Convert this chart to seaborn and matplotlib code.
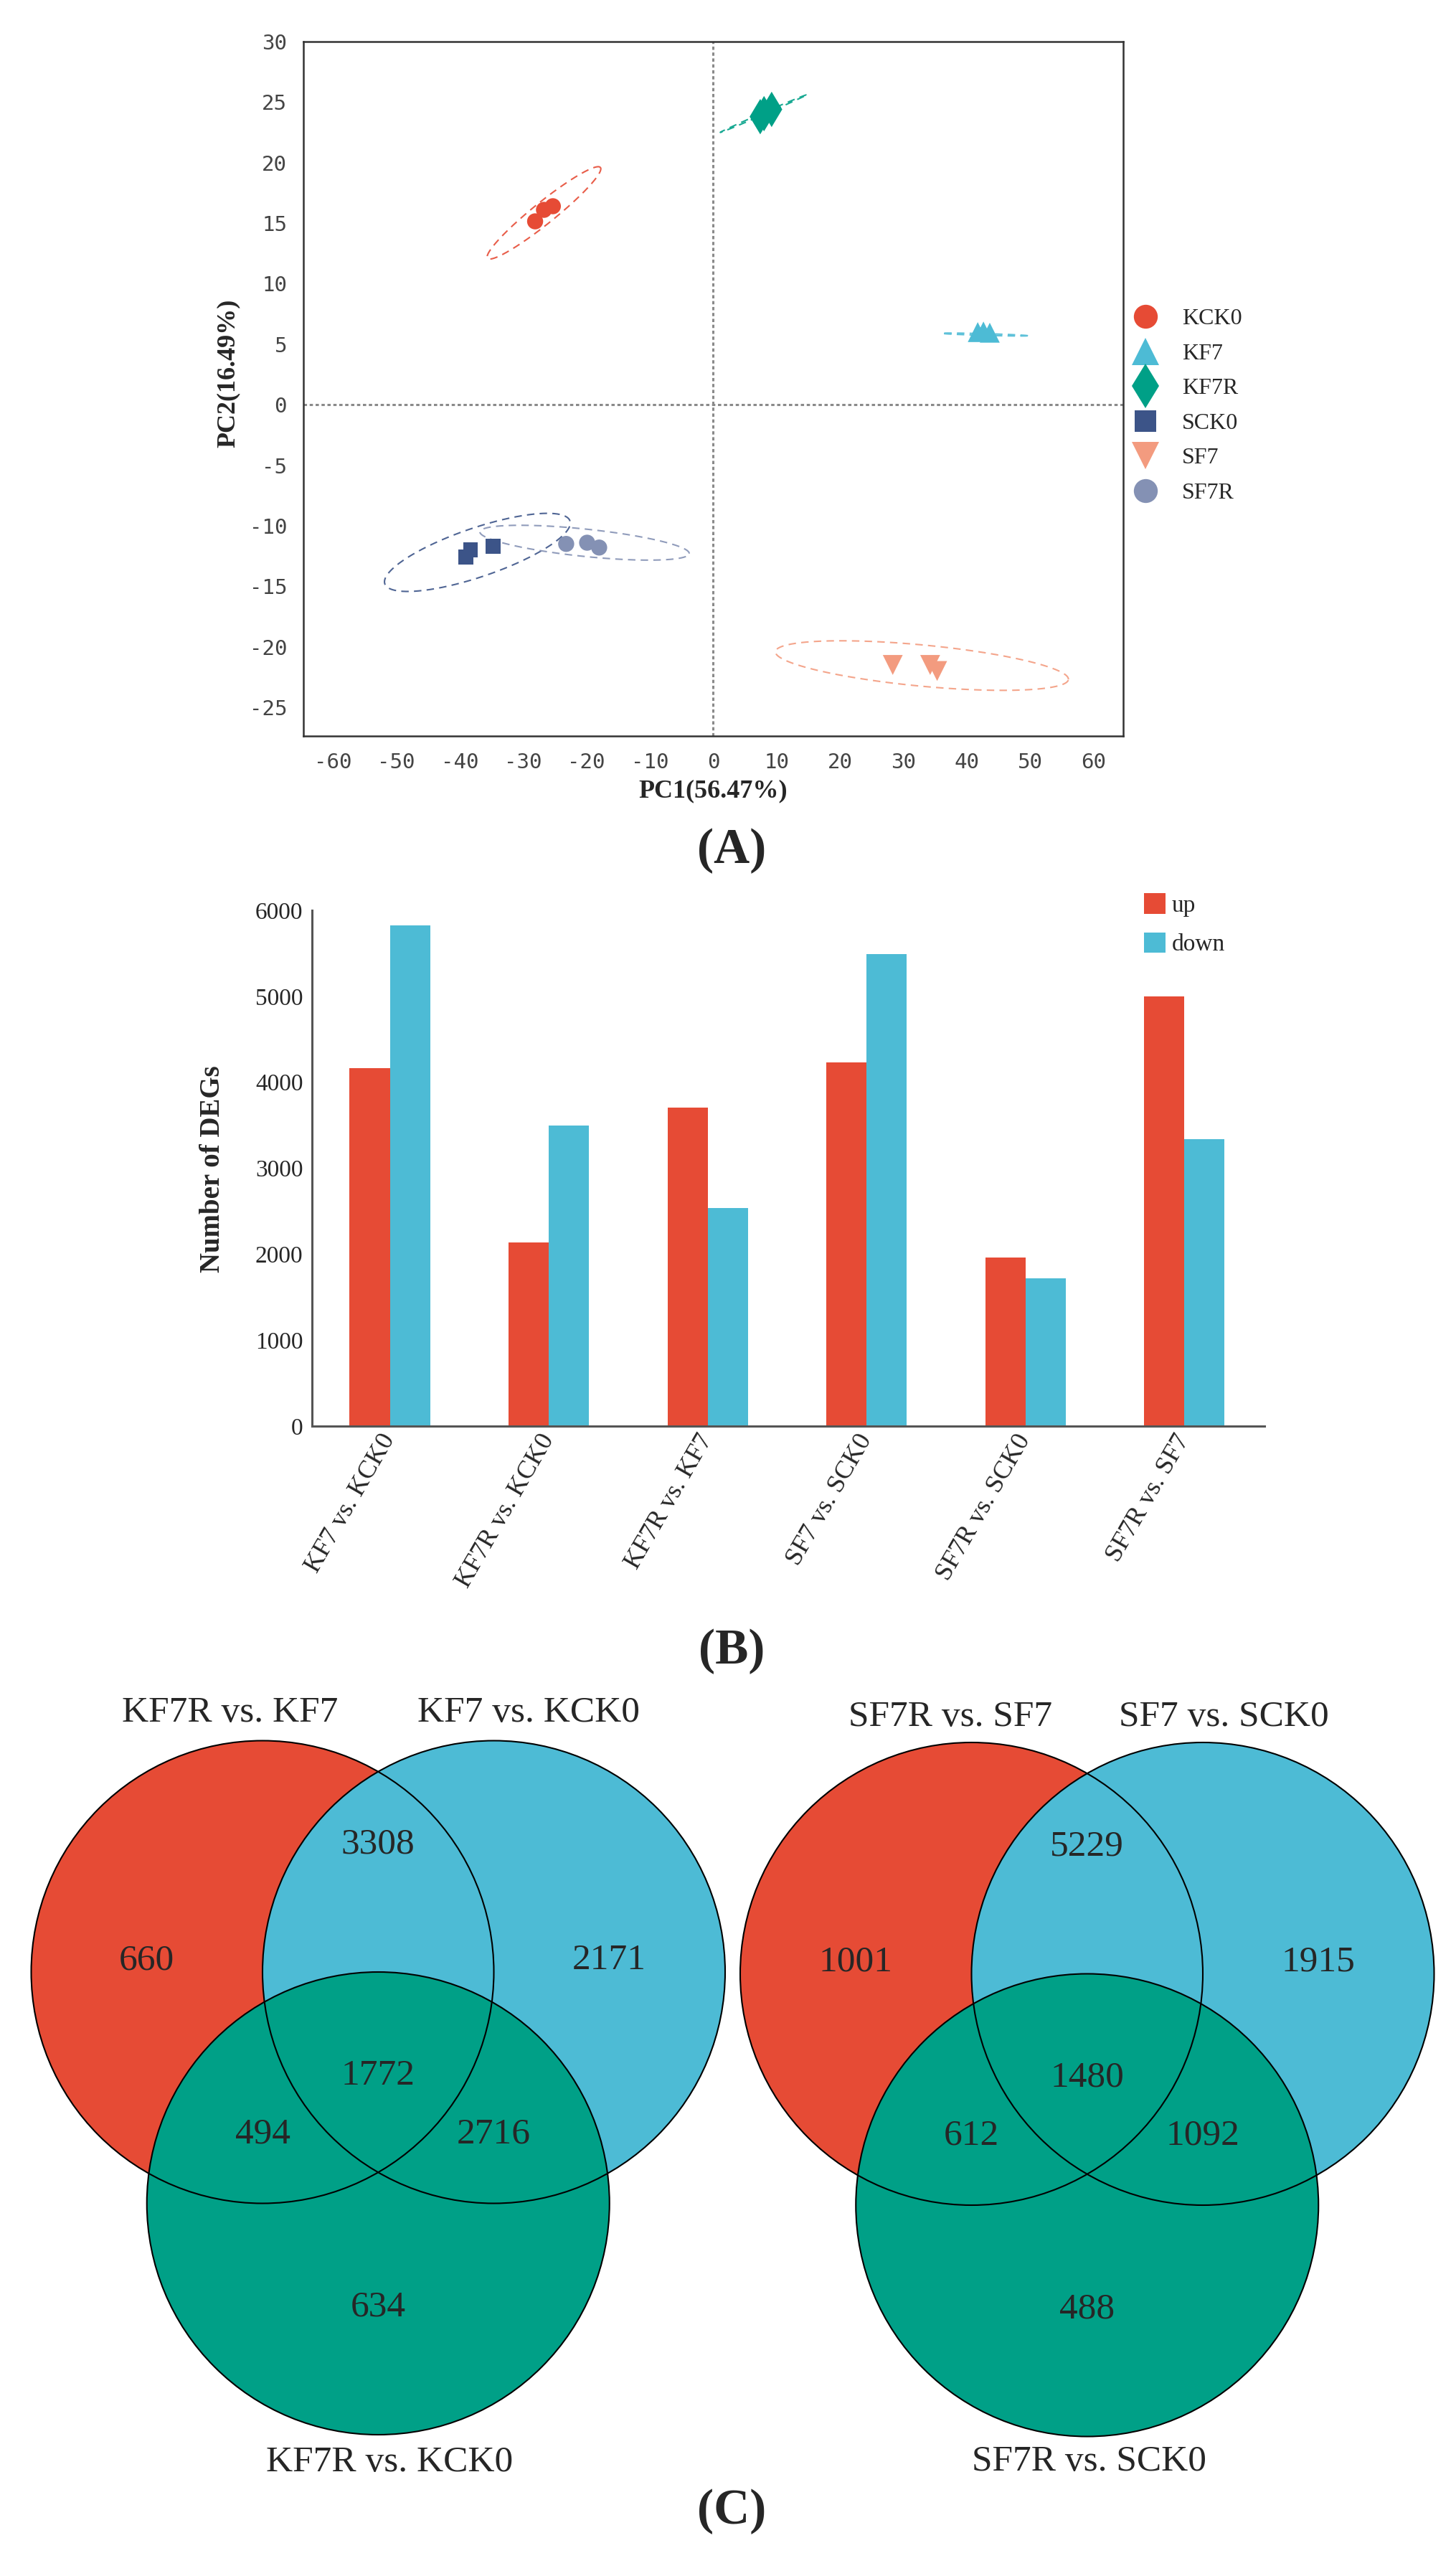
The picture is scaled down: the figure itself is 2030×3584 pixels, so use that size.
import numpy as np
import pandas as pd
import matplotlib
matplotlib.use("Agg")
import matplotlib.pyplot as plt
import seaborn as sns
from matplotlib.lines import Line2D
from matplotlib.patches import Circle, Patch

# ---------------- data: PCA ----------------
groups = ["KCK0", "KF7", "KF7R", "SCK0", "SF7", "SF7R"]
kck0_pc1 = [-28.1, -26.7, -25.3]
kck0_pc2 = [15.15, 16.1, 16.4]
kf7_pc1 = [41.7, 42.6, 43.6]
kf7_pc2 = [6.0, 6.05, 5.95]
kf7r_pc1 = [7.4, 8.0, 9.2]
kf7r_pc2 = [23.8, 24.05, 24.4]
sck0_pc1 = [-39.0, -38.3, -34.7]
sck0_pc2 = [-12.6, -12.0, -11.7]
sf7_pc1 = [28.3, 34.2, 35.3]
sf7_pc2 = [-21.5, -21.5, -22.0]
sf7r_pc1 = [-23.2, -19.9, -18.0]
sf7r_pc2 = [-11.5, -11.4, -11.8]

# confidence ellipses (centre, semi-major offset, minor/major ratio)
ell_cx = [-26.7, 42.8, 7.9, -37.2, 32.9, -20.3]
ell_cy = [15.85, 5.8, 24.05, -12.2, -21.55, -11.4]
ell_ax = [8.9, 6.8, 6.8, 14.6, 23.1, 16.5]
ell_ay = [3.75, -0.1, 1.55, 2.6, -1.15, -0.9]
ell_ratio = [0.15, 0.02, 0.02, 0.25, 0.14, 0.13]

pc1_label = "PC1(56.47%)"
pc2_label = "PC2(16.49%)"
pca_xticks = list(range(-60, 61, 10))
pca_yticks = list(range(-25, 31, 5))

# ---------------- data: DEG bars ----------------
comparisons = ["KF7 vs. KCK0", "KF7R vs. KCK0", "KF7R vs. KF7",
               "SF7 vs. SCK0", "SF7R vs. SCK0", "SF7R vs. SF7"]
up_counts = [4162, 2140, 3706, 4234, 1960, 5000]
down_counts = [5822, 3493, 2535, 5490, 1718, 3340]
directions = ["up", "down"]
bar_yticks = [0, 1000, 2000, 3000, 4000, 5000, 6000]

# ---------------- data: Venn ----------------
venn_k_sets = ["KF7R vs. KF7", "KF7 vs. KCK0", "KF7R vs. KCK0"]
venn_k_counts = [660, 3308, 2171, 1772, 494, 2716, 634]
venn_s_sets = ["SF7R vs. SF7", "SF7 vs. SCK0", "SF7R vs. SCK0"]
venn_s_counts = [1001, 5229, 1915, 1480, 612, 1092, 488]

# ---------------- style ----------------
colors = {"KCK0": "#E64B35", "KF7": "#4DBBD5", "KF7R": "#00A087",
          "SCK0": "#3C5488", "SF7": "#F39B7F", "SF7R": "#8491B4"}
markers = {"KCK0": "o", "KF7": "^", "KF7R": "d", "SCK0": "s", "SF7": "v", "SF7R": "o"}
sizes = {"KCK0": 260, "KF7": 400, "KF7R": 630, "SCK0": 220, "SF7": 400, "SF7R": 260}
leg_ms = {"KCK0": 24, "KF7": 27, "KF7R": 32, "SCK0": 21, "SF7": 27, "SF7R": 24}
bar_colors = {"up": "#E64B35", "down": "#4DBBD5"}

sns.set_theme(style="white")
plt.rcParams["font.family"] = ["Liberation Serif", "DejaVu Serif"]
plt.rcParams["axes.unicode_minus"] = False

W, H = 2030, 3584
fig = plt.figure(figsize=(W / 100, H / 100), dpi=100)
fig.patch.set_facecolor("white")


def px_axes(l, t, r, b):
    return fig.add_axes([l / W, 1 - b / H, (r - l) / W, (b - t) / H])


# ======================= Panel A: PCA =======================
axA = px_axes(423, 58, 1566, 1026)
pc1_all = [kck0_pc1, kf7_pc1, kf7r_pc1, sck0_pc1, sf7_pc1, sf7r_pc1]
pc2_all = [kck0_pc2, kf7_pc2, kf7r_pc2, sck0_pc2, sf7_pc2, sf7r_pc2]
rows = []
for g, xs, ys in zip(groups, pc1_all, pc2_all):
    for x, y in zip(xs, ys):
        rows.append((g, x, y))
df_pca = pd.DataFrame(rows, columns=["group", "PC1", "PC2"])

axA.axhline(0, color="#8a8a8a", lw=2.2, ls=(0, (1.5, 1.2)), zorder=1)
axA.axvline(0, color="#8a8a8a", lw=2.2, ls=(0, (1.5, 1.2)), zorder=1)
sns.scatterplot(data=df_pca, x="PC1", y="PC2", hue="group", style="group", size="group",
                hue_order=groups, style_order=groups, size_order=groups,
                palette=colors, markers=markers, sizes=sizes, linewidth=0,
                legend=False, ax=axA, zorder=3)
axA.set_xlim(-64.64, 64.64)
axA.set_ylim(-27.37, 30)

t = np.linspace(0, 2 * np.pi, 500)
T = axA.transData
for g, cx, cy, ax_, ay_, k in zip(groups, ell_cx, ell_cy, ell_ax, ell_ay, ell_ratio):
    c = T.transform((cx, cy))
    e = T.transform((cx + ax_, cy + ay_))
    a = e - c
    n = np.array([-a[1], a[0]]) * k
    pts = c[None, :] + np.outer(np.cos(t), a) + np.outer(np.sin(t), n)
    d = T.inverted().transform(pts)
    axA.plot(d[:, 0], d[:, 1], color=colors[g], lw=1.5, dashes=(5, 3.5), alpha=0.9, zorder=2)

axA.set_xticks(pca_xticks, labels=[str(v) for v in pca_xticks],
               fontfamily="DejaVu Sans Mono", fontsize=21, color="#444444")
axA.set_yticks(pca_yticks, labels=[str(v) for v in pca_yticks],
               fontfamily="DejaVu Sans Mono", fontsize=21, color="#444444")
axA.tick_params(direction="out", length=8, width=1.5, color="#333333", pad=8.5)
for s in axA.spines.values():
    s.set_color("#333333")
    s.set_linewidth(1.8)
axA.set_xlabel("")
axA.set_ylabel("")
fig.text(994 / W, 1 - 1103 / H, pc1_label, ha="center", va="center",
         fontsize=26, weight="bold")
fig.text(318 / W, 1 - 520 / H, pc2_label, ha="center", va="center",
         fontsize=26, weight="bold", rotation=90)

handles = [Line2D([], [], ls="", marker=markers[g], color=colors[g], markeredgewidth=0,
                  markersize=leg_ms[g]) for g in groups]
fig.legend(handles, groups, loc="upper left", bbox_to_anchor=(1581 / W, 1 - 430 / H),
           frameon=False, fontsize=23, handlelength=1.0, handletextpad=1.1,
           labelspacing=0.6, borderpad=0, borderaxespad=0)

fig.text(1020 / W, 1 - 1186 / H, "(A)", ha="center", va="center", fontsize=50, weight="bold")

# ======================= Panel B: DEG bars =======================
axB = px_axes(435, 1269, 1763, 1988)
df_bar = pd.DataFrame({
    "comparison": comparisons * 2,
    "direction": ["up"] * len(comparisons) + ["down"] * len(comparisons),
    "count": up_counts + down_counts,
})
sns.barplot(data=df_bar, x="comparison", y="count", hue="direction",
            order=comparisons, hue_order=directions, palette=bar_colors,
            width=0.506, saturation=1, linewidth=0, errorbar=None,
            legend=False, ax=axB)
axB.set_xlim(-0.49, 5.505)
axB.set_ylim(0, 6000)
axB.set_yticks(bar_yticks, labels=[str(v) for v in bar_yticks], fontsize=24)
axB.set_xlabel("")
axB.set_ylabel("")
for side in ["top", "right"]:
    axB.spines[side].set_visible(False)
for side in ["left", "bottom"]:
    axB.spines[side].set_color("#555555")
    axB.spines[side].set_linewidth(2.2)
axB.tick_params(direction="in", length=9.5, width=1.6, color="#222222", pad=9)
axB.tick_params(axis="x", labelsize=26, pad=10)
plt.setp(axB.get_xticklabels(), rotation=60, ha="right", va="center", rotation_mode="anchor")
axB.text(-0.104, 0.499, "Number of DEGs", transform=axB.transAxes, rotation=90,
         ha="center", va="center", fontsize=28, weight="bold")
bh = [Patch(facecolor=bar_colors[d], edgecolor="none") for d in directions]
fig.legend(bh, directions, loc="upper left", bbox_to_anchor=(1595 / W, 1 - 1245 / H),
           frameon=False, fontsize=24, handlelength=0.9, handleheight=0.95,
           handletextpad=0.25, labelspacing=0.65, borderpad=0, borderaxespad=0)

fig.text(1020 / W, 1 - 2302 / H, "(B)", ha="center", va="center", fontsize=50, weight="bold")

# ======================= Panel C: Venn diagrams =======================
R_PX = 322.5
circle_centres = [(0.0, 0.0), (1.0, 0.0), (0.5, -1.0)]
circle_colors = ["#E64B35", "#4DBBD5", "#00A087"]
region_pos = [(-0.5, 0.05), (0.5, 0.55), (1.5, 0.05), (0.5, -0.45),
              (0.0, -0.70), (1.0, -0.70), (0.5, -1.45)]


def venn(l_px, r_px, cx_px, cy_px, set_names, counts, set_pos):
    top_px, bot_px = 2330, 3560
    ax = px_axes(l_px, top_px, r_px, bot_px)
    ax.set_xlim((l_px - cx_px) / R_PX, (r_px - cx_px) / R_PX)
    ax.set_ylim((cy_px - bot_px) / R_PX, (cy_px - top_px) / R_PX)
    ax.axis("off")
    for i, ((x, y), col) in enumerate(zip(circle_centres, circle_colors)):
        ax.add_patch(Circle((x, y), 1.0, facecolor=col, edgecolor="none", zorder=1 + i))
    for (x, y) in circle_centres:
        ax.add_patch(Circle((x, y), 1.0, facecolor="none", edgecolor="black", lw=1.5, zorder=5))
    for (x, y), v in zip(region_pos, counts):
        ax.text(x, y, str(v), ha="center", va="center", fontsize=37, zorder=6)
    for (x, y), name in zip(set_pos, set_names):
        ax.text(x, y, name, ha="center", va="center", fontsize=37, zorder=6, clip_on=False)


venn(0, 1015, 366, 2749, venn_k_sets, venn_k_counts,
     [(-0.14, 1.12), (1.15, 1.12), (0.55, -2.12)])
venn(1015, 2030, 1354.5, 2751.5, venn_s_sets, venn_s_counts,
     [(-0.09, 1.11), (1.09, 1.11), (0.51, -2.11)])

fig.text(1020 / W, 1 - 3501 / H, "(C)", ha="center", va="center", fontsize=50, weight="bold")

fig.savefig("out.png", dpi=100, facecolor="white")
